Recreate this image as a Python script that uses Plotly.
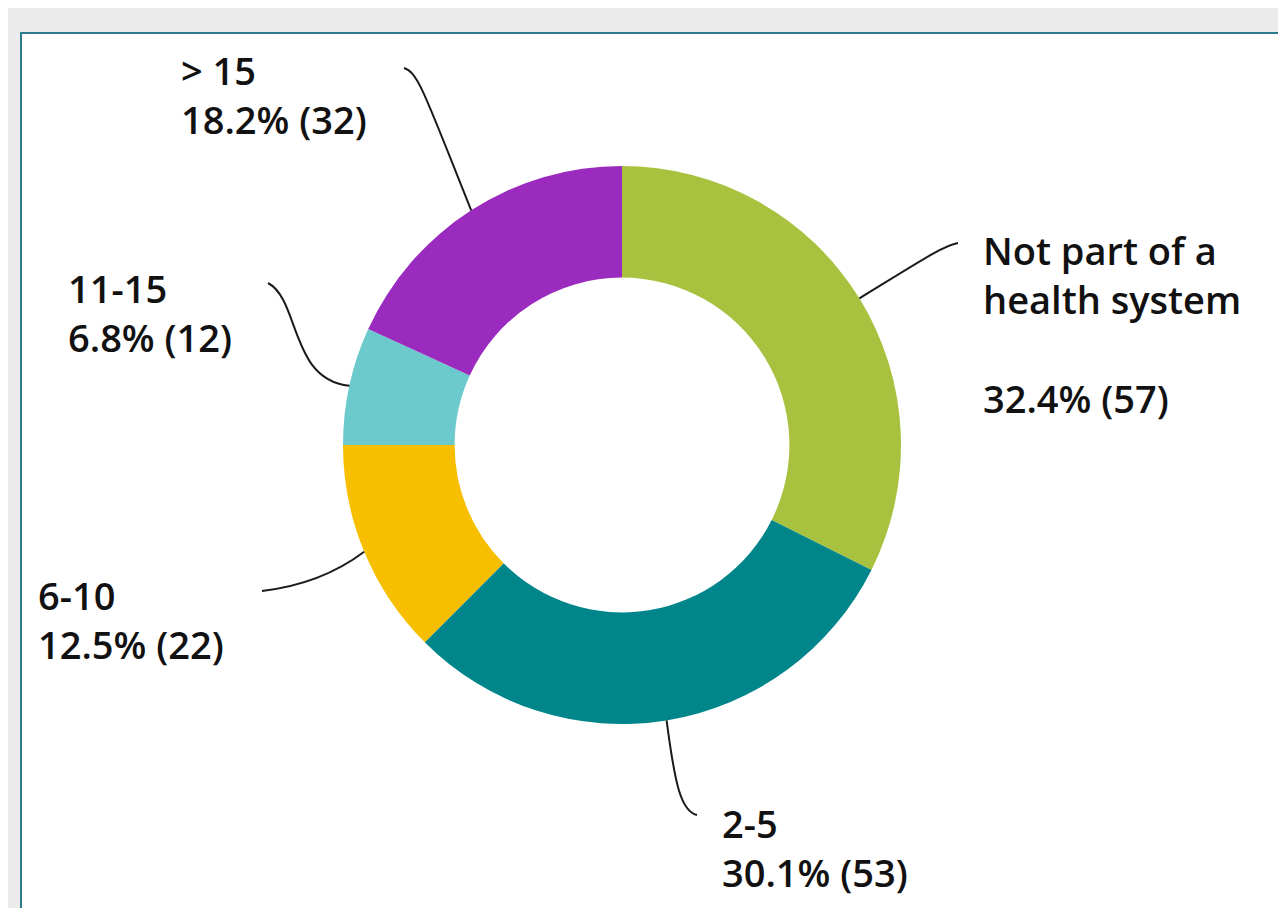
import math
import plotly.graph_objects as go

# ---- data ----
categories = ["Not part of a health system", "2-5", "6-10", "11-15", "> 15"]
counts = [57, 53, 22, 12, 32]
percents = [32.4, 30.1, 12.5, 6.8, 18.2]
label_texts = [
    "Not part of a<br>health system<br><br>32.4% (57)",
    "2-5<br>30.1% (53)",
    "6-10<br>12.5% (22)",
    "11-15<br>6.8% (12)",
    "> 15<br>18.2% (32)",
]
colors = ["#a8c23f", "#00868a", "#f8bf00", "#6cc9cc", "#9b2bbf"]

SW, SH = 1286, 916              # screen size
OFF = 8                         # page body margin in the browser
W, H = SW - 2 * OFF, SH - 2 * OFF  # figure size, so the page never overflows
CX, CY, R = 622, 445, 279       # donut centre / radius in screen pixels

# label layout (screen-pixel positions of label box top-left, leader end, control points)
label_pos = [(981, 222), (720, 795), (36, 567), (66, 260), (179, 42)]
leader_end = [(958, 243), (697, 815), (262, 591), (268, 283), (404, 68)]
leader_c1 = [(925, 258), (681, 811), (305, 586), (300, 300), (418, 72)]
leader_c2 = [(945, 245), (675, 785), (340, 570), (290, 380), (425, 95)]

font_family = "Open Sans"
font_size = 38

fig = go.Figure()
fig.add_trace(go.Pie(
    labels=categories, values=counts, sort=False, direction="clockwise",
    rotation=0, hole=0.6, textinfo="none",
    marker=dict(colors=colors, line=dict(width=0)),
    domain=dict(x=[(CX - OFF - R) / W, (CX - OFF + R) / W],
                y=[(H - (CY - OFF) - R) / H, (H - (CY - OFF) + R) / H]),
    showlegend=False,
))

# invisible pixel-space axes for annotations/leaders (screen coordinates)
fig.add_trace(go.Scatter(x=[OFF, OFF + W], y=[OFF, OFF + H], mode="markers",
                         marker=dict(opacity=0), showlegend=False, hoverinfo="skip"))

shapes = [dict(type="rect", xref="x", yref="y", x0=21, y0=33, x1=SW + 40, y1=SH + 40,
               fillcolor="white", line=dict(color="#2f7b8e", width=2), layer="below")]

total = sum(counts)
cum = 0
annotations = []
for i, v in enumerate(counts):
    mid = (cum + v / 2) / total * 2 * math.pi
    cum += v
    ax = CX + R * math.sin(mid)
    ay = CY - R * math.cos(mid)
    ex, ey = leader_end[i]
    c1x, c1y = leader_c1[i]
    c2x, c2y = leader_c2[i]
    if i == 0:
        path = f"M {ax:.1f} {ay:.1f} C {c1x} {c1y}, {c2x} {c2y}, {ex} {ey}"
    else:
        path = f"M {ex} {ey} C {c1x} {c1y}, {c2x} {c2y}, {ax:.1f} {ay:.1f}"
    shapes.append(dict(type="path", xref="x", yref="y", path=path,
                       line=dict(color="#1a1a1a", width=2)))
    lx, ly = label_pos[i]
    annotations.append(dict(
        x=lx, y=ly, xref="x", yref="y", xanchor="left", yanchor="top", align="left",
        text=label_texts[i], showarrow=False,
        font=dict(family=font_family, size=font_size, color="#111111", weight=600),
    ))

fig.update_layout(
    width=W, height=H, margin=dict(l=0, r=0, t=0, b=0),
    paper_bgcolor="#ebebeb", plot_bgcolor="rgba(0,0,0,0)",
    xaxis=dict(range=[OFF, OFF + W], visible=False, domain=[0, 1], fixedrange=True),
    yaxis=dict(range=[OFF + H, OFF], visible=False, domain=[0, 1], fixedrange=True),
    shapes=shapes, annotations=annotations,
)

fig.write_html("out.html")
